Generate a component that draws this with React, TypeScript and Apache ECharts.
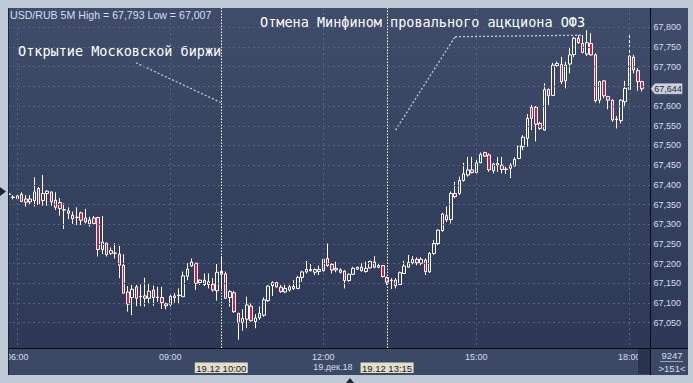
import React, { useEffect, useRef } from 'react';
import * as echarts from 'echarts';

// ---- data (USD/RUB 5M, 19.12.2018) ----
const opens = [
  67.376, 67.369, 67.365, 67.376, 67.364, 67.357, 67.360, 67.391, 67.360, 67.378,
  67.382, 67.361, 67.355, 67.337, 67.334, 67.323, 67.318, 67.329, 67.316, 67.301,
  67.316, 67.317, 67.236, 67.252, 67.226, 67.227, 67.224, 67.196, 67.128, 67.114,
  67.141, 67.117, 67.118, 67.112, 67.133, 67.115, 67.114, 67.098, 67.096, 67.114,
  67.119, 67.116, 67.168, 67.194, 67.201, 67.152, 67.158, 67.147, 67.147, 67.131,
  67.181, 67.174, 67.114, 67.126, 67.074, 67.050, 67.059, 67.092, 67.053, 67.062,
  67.069, 67.106, 67.144, 67.152, 67.140, 67.128, 67.133, 67.137, 67.137, 67.165,
  67.179, 67.182, 67.178, 67.185, 67.182, 67.213, 67.198, 67.184, 67.184, 67.181,
  67.157, 67.173, 67.186, 67.191, 67.180, 67.189, 67.204, 67.191, 67.195, 67.165,
  67.157, 67.158, 67.147, 67.175, 67.191, 67.202, 67.211, 67.201, 67.209, 67.179,
  67.226, 67.251, 67.284, 67.322, 67.312, 67.378, 67.378, 67.411, 67.425, 67.438,
  67.431, 67.456, 67.482, 67.476, 67.436, 67.455, 67.450, 67.440, 67.442, 67.448,
  67.467, 67.497, 67.518, 67.597, 67.597, 67.556, 67.539, 67.642, 67.627, 67.703,
  67.706, 67.664, 67.707, 67.731, 67.772, 67.759, 67.732, 67.759, 67.730, 67.615,
  67.664, 67.624, 67.615, 67.566, 67.563, 67.611, 67.642, 67.724, 67.690, 67.662,
];
const closes = [
  67.377, 67.368, 67.372, 67.358, 67.356, 67.364, 67.382, 67.350, 67.378, 67.384,
  67.357, 67.343, 67.340, 67.336, 67.328, 67.314, 67.317, 67.310, 67.306, 67.311,
  67.302, 67.236, 67.255, 67.223, 67.233, 67.226, 67.196, 67.125, 67.097, 67.135,
  67.112, 67.116, 67.112, 67.130, 67.114, 67.114, 67.101, 67.093, 67.117, 67.118,
  67.120, 67.169, 67.186, 67.204, 67.150, 67.158, 67.147, 67.154, 67.133, 67.178,
  67.173, 67.112, 67.129, 67.078, 67.050, 67.061, 67.095, 67.055, 67.062, 67.074,
  67.108, 67.143, 67.152, 67.141, 67.129, 67.137, 67.141, 67.142, 67.165, 67.179,
  67.185, 67.185, 67.185, 67.180, 67.211, 67.195, 67.184, 67.188, 67.178, 67.157,
  67.173, 67.188, 67.191, 67.182, 67.188, 67.206, 67.191, 67.195, 67.167, 67.153,
  67.158, 67.144, 67.177, 67.194, 67.203, 67.211, 67.202, 67.211, 67.180, 67.226,
  67.251, 67.285, 67.326, 67.311, 67.378, 67.370, 67.411, 67.428, 67.438, 67.431,
  67.456, 67.477, 67.473, 67.438, 67.453, 67.450, 67.439, 67.439, 67.450, 67.465,
  67.499, 67.521, 67.569, 67.569, 67.554, 67.543, 67.642, 67.626, 67.704, 67.708,
  67.662, 67.704, 67.730, 67.772, 67.761, 67.736, 67.761, 67.730, 67.614, 67.662,
  67.626, 67.615, 67.565, 67.567, 67.615, 67.645, 67.727, 67.692, 67.662, 67.644,
];
const lows = [
  67.370, 67.363, 67.361, 67.356, 67.345, 67.350, 67.345, 67.350, 67.347, 67.347,
  67.347, 67.336, 67.322, 67.288, 67.313, 67.301, 67.298, 67.298, 67.302, 67.294,
  67.298, 67.218, 67.224, 67.218, 67.222, 67.213, 67.163, 67.125, 67.078, 67.069,
  67.092, 67.092, 67.091, 67.097, 67.093, 67.103, 67.085, 67.084, 67.091, 67.101,
  67.097, 67.116, 67.158, 67.192, 67.133, 67.146, 67.143, 67.137, 67.129, 67.106,
  67.135, 67.112, 67.091, 67.075, 67.007, 67.030, 67.036, 67.053, 67.036, 67.057,
  67.065, 67.103, 67.118, 67.139, 67.126, 67.125, 67.129, 67.133, 67.135, 67.154,
  67.175, 67.180, 67.171, 67.171, 67.180, 67.192, 67.175, 67.178, 67.175, 67.137,
  67.154, 67.171, 67.184, 67.180, 67.177, 67.188, 67.188, 67.188, 67.165, 67.146,
  67.135, 67.137, 67.146, 67.174, 67.190, 67.198, 67.196, 67.196, 67.171, 67.177,
  67.222, 67.247, 67.281, 67.306, 67.302, 67.366, 67.374, 67.408, 67.421, 67.429,
  67.429, 67.455, 67.471, 67.433, 67.429, 67.433, 67.429, 67.428, 67.417, 67.446,
  67.465, 67.488, 67.497, 67.539, 67.510, 67.539, 67.537, 67.603, 67.626, 67.700,
  67.656, 67.645, 67.683, 67.724, 67.758, 67.734, 67.727, 67.728, 67.609, 67.607,
  67.620, 67.592, 67.560, 67.543, 67.556, 67.597, 67.641, 67.683, 67.639, 67.637,
];
const highs = [
  67.381, 67.374, 67.378, 67.381, 67.374, 67.374, 67.419, 67.394, 67.425, 67.387,
  67.383, 67.381, 67.366, 67.353, 67.343, 67.332, 67.343, 67.332, 67.339, 67.319,
  67.321, 67.319, 67.321, 67.253, 67.241, 67.252, 67.245, 67.224, 67.143, 67.146,
  67.146, 67.147, 67.164, 67.148, 67.144, 67.141, 67.141, 67.101, 67.122, 67.125,
  67.137, 67.180, 67.201, 67.213, 67.201, 67.160, 67.175, 67.175, 67.163, 67.199,
  67.218, 67.180, 67.133, 67.131, 67.074, 67.084, 67.116, 67.099, 67.072, 67.091,
  67.114, 67.145, 67.155, 67.154, 67.146, 67.146, 67.146, 67.158, 67.169, 67.182,
  67.207, 67.199, 67.188, 67.195, 67.213, 67.251, 67.201, 67.205, 67.188, 67.184,
  67.175, 67.192, 67.192, 67.201, 67.205, 67.207, 67.219, 67.201, 67.196, 67.167,
  67.163, 67.163, 67.180, 67.207, 67.222, 67.219, 67.216, 67.216, 67.213, 67.229,
  67.260, 67.287, 67.329, 67.345, 67.383, 67.408, 67.421, 67.456, 67.471, 67.471,
  67.467, 67.482, 67.484, 67.480, 67.456, 67.471, 67.471, 67.446, 67.455, 67.470,
  67.501, 67.526, 67.580, 67.603, 67.600, 67.560, 67.658, 67.645, 67.710, 67.713,
  67.725, 67.713, 67.747, 67.776, 67.780, 67.780, 67.793, 67.785, 67.734, 67.664,
  67.666, 67.626, 67.617, 67.575, 67.617, 67.664, 67.780, 67.730, 67.696, 67.664,
];

const firstBarTime = '05:50';
const barMinutes = 5;
const timeTickLabels = ['06:00', '09:00', '12:00', '15:00', '18:00'];
const priceGridTicks = [
  67.05, 67.1, 67.15, 67.2, 67.25, 67.3, 67.35, 67.4,
  67.45, 67.5, 67.55, 67.6, 67.65, 67.7, 67.75, 67.8,
];
// 67,650 is hidden behind the last-price tag in the reference
const priceLabelTicks = [
  67.05, 67.1, 67.15, 67.2, 67.25, 67.3, 67.35, 67.4,
  67.45, 67.5, 67.55, 67.6, 67.7, 67.75, 67.8,
];
const eventTimes = ['10:00', '13:15'];
const eventTags = ['19.12 10:00', '19.12 13:15'];
const dateLabel = '19.дек.18';
const headerText = 'USD/RUB 5M High = 67,793 Low = 67,007';
const noteOpen = 'Открытие Московской биржи';
const noteMinfin = 'Отмена Минфином провального ацкциона ОФЗ';
const barsTotal = '9247';
const barsVisible = '>151<';

// ---- helpers ----
const pad = (n: number) => (n < 10 ? '0' + n : '' + n);
const toMin = (s: string) => {
  const [h, m] = s.split(':').map(Number);
  return h * 60 + m;
};
const timeToIndex = (s: string) => (toMin(s) - toMin(firstBarTime)) / barMinutes;
const indexToTime = (i: number) => {
  const t = toMin(firstBarTime) + Math.round(i) * barMinutes;
  return pad(Math.floor(t / 60)) + ':' + pad(t % 60);
};
const fmtPrice = (v: number) => v.toFixed(3).replace('.', ',');

const xTickIdx = timeTickLabels.map(timeToIndex);
const eventIdx = eventTimes.map(timeToIndex);

const FONT = '"Liberation Sans", Arial, sans-serif';
const MONO = '"DejaVu Sans Mono", monospace';
const LABEL = '#d6dfed';
const FRAME = '#bfc9d6';
const GRIDC = '#56647f';

export default function App() {
  const ref = useRef<HTMLDivElement>(null);
  useEffect(() => {
    if (!ref.current) return;
    const chart = echarts.init(ref.current, undefined, { renderer: 'svg' });
    const data = opens.map((o, i) => [i, o, closes[i], lows[i], highs[i]]);
    const lastIdx = opens.length - 1;
    const lastClose = closes[lastIdx];

    const annoStyle = { color: '#c4cad4', type: [2, 2] as any, width: 1.3 };
    const option: any = {
      animation: false,
      backgroundColor: {
        type: 'linear', x: 0, y: 0, x2: 0, y2: 1,
        colorStops: [
          { offset: 0, color: '#3f4d6a' },
          { offset: 1, color: '#2b3754' },
        ],
      },
      textStyle: { fontFamily: FONT },
      grid: { left: 8, top: 8, width: 642.5, height: 340, outerBoundsMode: 'none', containLabel: false },
      xAxis: {
        type: 'value',
        min: -0.188,
        max: 150.99,
        z: 10,
        axisLine: { show: false },
        axisTick: { show: false, customValues: xTickIdx },
        axisLabel: {
          customValues: xTickIdx,
          formatter: (v: number) => indexToTime(v),
          color: LABEL,
          fontSize: 9,
          fontFamily: FONT,
          margin: 4,
        },
        splitLine: { show: true, lineStyle: { color: GRIDC, type: [2, 3], width: 1 } },
      },
      yAxis: {
        type: 'value',
        position: 'right',
        min: 66.9858,
        max: 67.849,
        z: 10,
        axisLine: { show: false },
        axisTick: { show: false, customValues: priceGridTicks },
        axisLabel: {
          customValues: priceLabelTicks,
          formatter: (v: number) => fmtPrice(v),
          color: LABEL,
          fontSize: 9,
          fontFamily: FONT,
          margin: 3,
        },
        splitLine: { show: true, lineStyle: { color: GRIDC, type: [2, 3], width: 1 } },
      },
      series: [
        {
          type: 'candlestick',
          data,
          barWidth: 3,
          itemStyle: {
            color: '#34425f',
            color0: '#e0143c',
            borderColor: '#ffffff',
            borderColor0: '#ffffff',
            borderColorDoji: '#ffffff',
            borderWidth: 1,
          },
          markLine: {
            silent: true,
            symbol: 'none',
            label: { show: false },
            data: [
              { xAxis: eventIdx[0], lineStyle: { color: '#ffffff', type: [1.5, 1.5], width: 1 } },
              { xAxis: eventIdx[1], lineStyle: { color: '#ffffff', type: [1.5, 1.5], width: 1 } },
              [
                { coord: [29.9, 67.71], lineStyle: annoStyle },
                { coord: [eventIdx[0] - 0.1, 67.609] },
              ],
              [
                { coord: [91.0, 67.539], lineStyle: annoStyle },
                { coord: [105.0, 67.776] },
              ],
              [
                { coord: [105.0, 67.776], lineStyle: annoStyle },
                { coord: [135.1, 67.78] },
              ],
            ],
          },
        },
      ],
    };
    chart.setOption(option);

    const yLast = chart.convertToPixel({ yAxisIndex: 0 }, lastClose) as number;
    const ex = eventIdx.map((i) => chart.convertToPixel({ xAxisIndex: 0 }, i) as number);
    const x12 = chart.convertToPixel({ xAxisIndex: 0 }, xTickIdx[2]) as number;

    const graphic: any[] = [
      { type: 'rect', z: 1, shape: { x: 8, y: 349, width: 643, height: 26 }, style: { fill: '#3b4966' } },
      { type: 'rect', z: 1, shape: { x: 651, y: 349, width: 37, height: 26 }, style: { fill: '#3b4966' } },
      { type: 'rect', z: 60, shape: { x: 638, y: 349, width: 12, height: 25 }, style: { fill: '#28334d' } },
      { type: 'line', z: 70, shape: { x1: 650.5, y1: 8, x2: 650.5, y2: 375 }, style: { stroke: '#080b12', lineWidth: 1 } },
      { type: 'line', z: 70, shape: { x1: 8, y1: 348.5, x2: 688, y2: 348.5 }, style: { stroke: '#080b12', lineWidth: 1 } },
      { type: 'line', z: 70, shape: { x1: 8.5, y1: 8, x2: 8.5, y2: 375 }, style: { stroke: '#1c2438', lineWidth: 1 } },
      { type: 'rect', z: 100, shape: { x: 0, y: 0, width: 8, height: 383 }, style: { fill: FRAME } },
      { type: 'rect', z: 100, shape: { x: 0, y: 0, width: 693, height: 8 }, style: { fill: FRAME } },
      { type: 'rect', z: 100, shape: { x: 688, y: 0, width: 5, height: 383 }, style: { fill: FRAME } },
      { type: 'rect', z: 100, shape: { x: 0, y: 375, width: 693, height: 8 }, style: { fill: FRAME } },
      { type: 'polygon', z: 110, shape: { points: [[0, 187], [6, 191.5], [0, 196]] }, style: { fill: '#1d263a' } },
      { type: 'polygon', z: 110, shape: { points: [[346, 383], [350, 378], [354, 383]] }, style: { fill: '#1d263a' } },
      {
        type: 'text', z: 80,
        style: { text: headerText, x: 10, y: 15, fill: LABEL, fontSize: 10.6, fontFamily: FONT, textVerticalAlign: 'middle' },
      },
      {
        type: 'text', z: 80,
        style: { text: noteOpen, x: 18, y: 51, fill: '#ffffff', fontSize: 13.5, fontFamily: MONO, textVerticalAlign: 'middle' },
      },
      {
        type: 'text', z: 80,
        style: { text: noteMinfin, x: 260, y: 21.5, fill: '#ffffff', fontSize: 13.5, fontFamily: MONO, textVerticalAlign: 'middle' },
      },
      {
        type: 'polygon', z: 80,
        shape: { points: [[651, yLast], [655, yLast - 5], [682, yLast - 5], [682, yLast + 5], [655, yLast + 5]] },
        style: { fill: '#cdd2da', stroke: '#e8ebf0', lineWidth: 0.5 },
      },
      {
        type: 'text', z: 81,
        style: { text: fmtPrice(lastClose), x: 668, y: yLast, fill: '#1b2742', fontSize: 9, fontFamily: FONT, textAlign: 'center', textVerticalAlign: 'middle' },
      },
      {
        type: 'text', z: 80,
        style: { text: dateLabel, x: x12 - 10, y: 366.5, fill: LABEL, fontSize: 9, fontFamily: FONT, textVerticalAlign: 'middle' },
      },
      {
        type: 'text', z: 80,
        style: { text: barsTotal, x: 672, y: 355.5, fill: LABEL, fontSize: 9.5, fontFamily: FONT, textAlign: 'center', textVerticalAlign: 'middle' },
      },
      { type: 'line', z: 80, shape: { x1: 660, y1: 361.5, x2: 683, y2: 361.5 }, style: { stroke: '#9aa6b9', lineWidth: 1 } },
      {
        type: 'text', z: 80,
        style: { text: barsVisible, x: 672, y: 368.5, fill: LABEL, fontSize: 9.5, fontFamily: FONT, textAlign: 'center', textVerticalAlign: 'middle' },
      },
    ];
    eventTags.forEach((t, k) => {
      graphic.push({
        type: 'rect', z: 85,
        shape: { x: ex[k] - 26.5, y: 362.5, width: 53, height: 10.5 },
        style: { fill: '#e2dfcb' },
      });
      graphic.push({
        type: 'text', z: 86,
        style: { text: t, x: ex[k], y: 368, fill: '#1a1a1a', fontSize: 9.5, fontFamily: FONT, textAlign: 'center', textVerticalAlign: 'middle' },
      });
    });
    chart.setOption({ graphic });

    return () => chart.dispose();
  }, []);
  return <div ref={ref} style={{ position: 'fixed', left: 0, top: 0, width: 693, height: 383 }} />;
}
